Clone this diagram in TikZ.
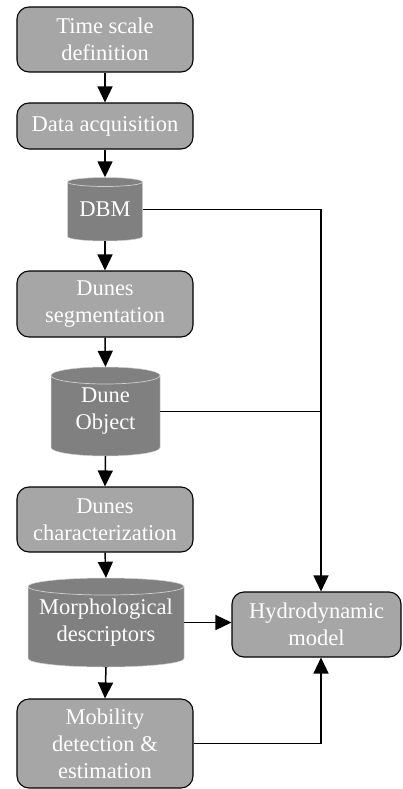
\documentclass[tikz,border=0pt]{standalone}
\usepackage{fontspec}
\setmainfont{Liberation Serif}
\newfontfamily\figfont{Liberation Serif}
\usetikzlibrary{arrows.meta}
\definecolor{boxgray}{HTML}{A6A6A6}
\definecolor{cylgray}{HTML}{808080}
\definecolor{cylrim}{HTML}{D0D0D0}
\newcommand\cylshape[5]{%
  \fill[cylgray] (#1-#4,#2+#5) -- (#1-#4,#3-#5) arc[start angle=180,end angle=0,x radius=#4,y radius=#5] -- (#1+#4,#2+#5) arc[start angle=0,end angle=-180,x radius=#4,y radius=#5] -- cycle;
  \draw[cylrim,line width=0.5pt] (#1-#4,#2+#5) -- (#1-#4,#3-#5) arc[start angle=180,end angle=0,x radius=#4,y radius=#5] -- (#1+#4,#2+#5) arc[start angle=0,end angle=-180,x radius=#4,y radius=#5] -- cycle;
  \draw[cylrim,line width=0.7pt] (#1-#4,#2+#5) arc[start angle=180,end angle=0,x radius=#4,y radius=#5];
}
\begin{document}
\begin{tikzpicture}[x=1pt,y=-1pt,
  procbox/.style={draw=black,line width=1.1pt,fill=boxgray,rounded corners=12pt,
    minimum width=176pt,inner sep=0pt,align=center,text=white,
    font=\figfont\fontsize{22.5}{27}\selectfont},
  cyltext/.style={draw=none,inner sep=0pt,align=center,text=white,
    font=\figfont\fontsize{22.5}{27}\selectfont},
  conn/.style={line width=1.5pt,draw=black},
  arr/.style={conn,-{Triangle[width=15pt,length=16pt]}}]
\useasboundingbox (0,0) rectangle (402,789);
% cylinders
\cylshape{105}{177.5}{241}{37.5}{4.5}
\cylshape{105.5}{367}{456}{54.5}{8.5}
\cylshape{106}{578}{667}{78}{8.5}
% process boxes
\node[procbox,minimum height=65pt] (ts) at (105,39.5) {Time scale\\definition};
\node[procbox,minimum height=46pt] (da) at (105,126) {Data acquisition};
\node[procbox,minimum height=66pt] (seg) at (105,304) {Dunes\\segmentation};
\node[procbox,minimum height=65pt] (chr) at (105,519.5) {Dunes\\characterization};
\node[procbox,minimum height=89pt] (mob) at (105,743.5) {Mobility\\detection \&\\estimation};
\node[procbox,minimum height=65pt,minimum width=169pt] (hyd) at (316.5,624.5) {Hydrodynamic\\model};
% cylinder labels
\node[cyltext,minimum width=75pt,minimum height=63.5pt] (dbm) at (105,209.25) {DBM};
\node[cyltext,minimum width=109pt,minimum height=89pt] (dob) at (105.5,411.5) {Dune\\Object};
\node[cyltext,minimum width=156pt,minimum height=89pt] (mor) at (106,622.5) {Morphological\\descriptors};
% connectors
\coordinate (htop) at ([xshift=4.5pt]hyd.north);
\coordinate (hbot) at ([xshift=4.5pt]hyd.south);
\draw[arr] (ts.south) -- (da.north);
\draw[arr] (da.south) -- (dbm.north);
\draw[arr] (dbm.south) -- (seg.north);
\draw[arr] (seg.south) -- (dob.north);
\draw[arr] (dob.south) -- (chr.north);
\draw[arr] (chr.south) -- (mor.north);
\draw[arr] (mor.south) -- (mob.north);
\draw[arr] (dbm.east) -| (htop);
\draw[conn] (dob.east) -- (dob.east -| htop);
\draw[arr] (mor.east) -- (mor.east -| hyd.west);
\draw[arr] (mob.east) -| (hbot);
\end{tikzpicture}
\end{document}
